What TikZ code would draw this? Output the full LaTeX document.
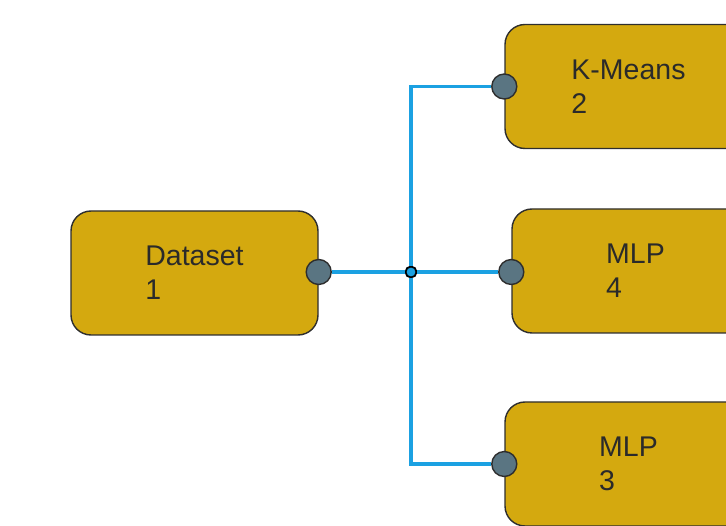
\documentclass[tikz,border=0pt]{standalone}
\usepackage{fontspec}
\setmainfont{Liberation Sans}
\usetikzlibrary{positioning}
\definecolor{boxfill}{HTML}{D4A90F}
\definecolor{boxline}{HTML}{2E2E2E}
\definecolor{portfill}{HTML}{5A7582}
\definecolor{linkblue}{HTML}{1BA1E2}
\definecolor{textcol}{HTML}{2A2A2A}

\begin{document}
\begin{tikzpicture}[
		x=1pt, y=-1pt,
		block/.style={rectangle, rounded corners=20pt, draw=boxline, line width=1.4pt, fill=boxfill, minimum width=247pt, minimum height=124pt, align=left, text=textcol, font=\fontsize{28.5}{34}\selectfont},
		port/.style={circle, draw=boxline, line width=1.4pt, fill=portfill, minimum size=25pt, inner sep=0pt},
		joint/.style={circle, draw=black, line width=1.8pt, fill=linkblue, minimum size=11pt, inner sep=0pt},
		link/.style={draw=linkblue, line width=3.6pt}
		]
		\useasboundingbox (0,0) rectangle (726,526);
		\clip (0,0) rectangle (726,526);
		
		% Blocchi
		\node[block] (dataset) at (194.5,273) {Dataset\\1};
		\node[block] (kmeans) at (628.5,86.5) {K-Means\\2};
		\node[block] (mlpb) at (635.5,271) {MLP\\4};
		\node[block] (mlpa) at (628.5,464) {MLP\\3};
		
		% Porte
		\node[port] (pdataset) at (dataset.east |- 0,272) {};
		\node[port] (pkmeans) at (kmeans.west) {};
		\node[port] (pmlpb) at (mlpb.west |- 0,272) {};
		\node[port] (pmlpa) at (mlpa.west) {};
		\node[joint] (split) at (411,272) {};
		
		% Collegamenti
		\draw[link] (pdataset) -- (split);
		\draw[link] (split) -- (pmlpb);
		\draw[link] (split) |- (pkmeans);
		\draw[link] (split) |- (pmlpa);
	\end{tikzpicture}
\end{document}
